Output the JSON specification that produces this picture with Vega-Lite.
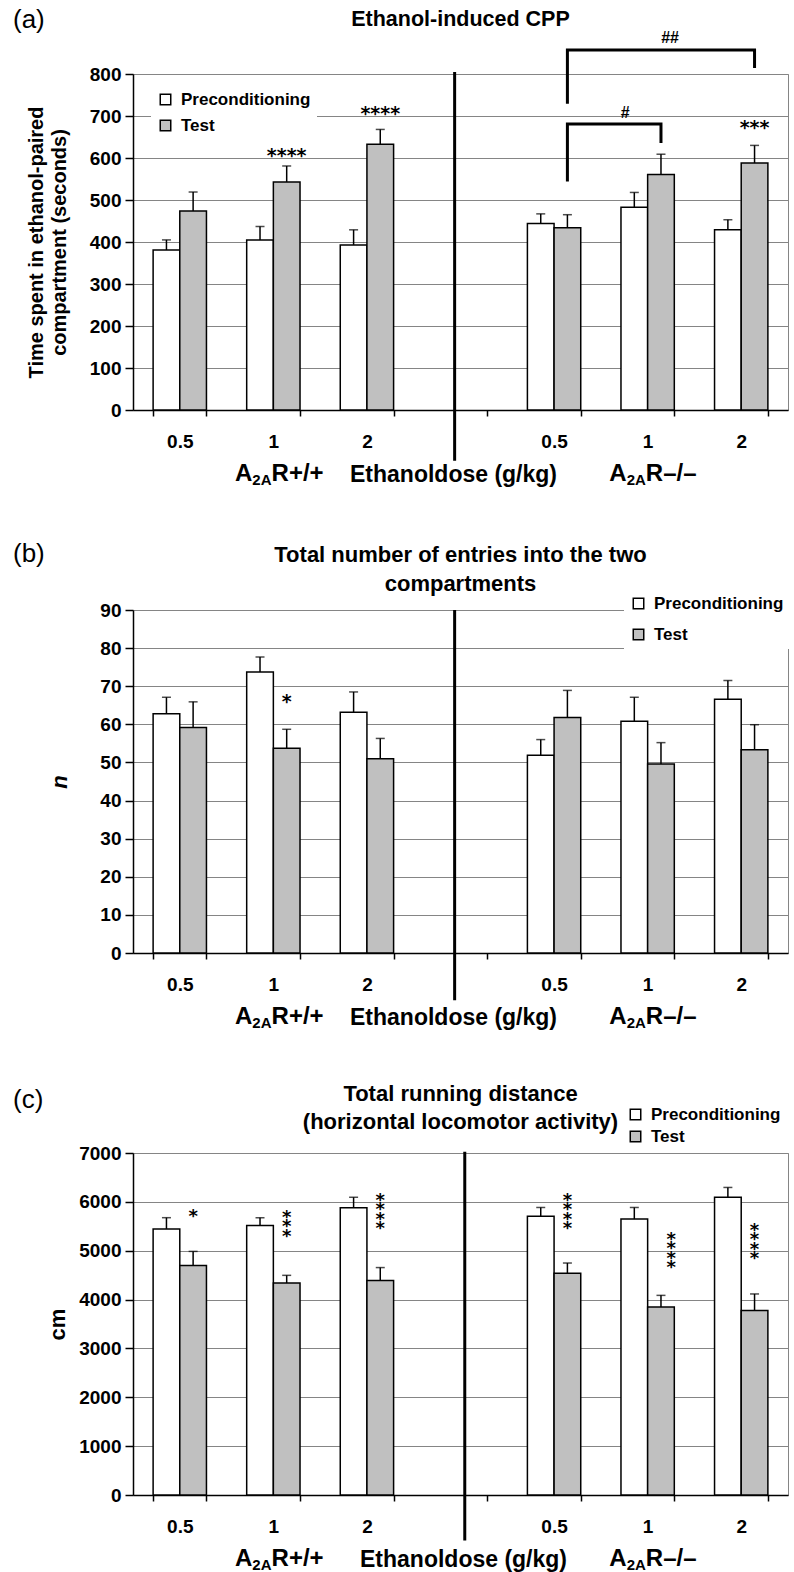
{
  "$schema": "https://vega.github.io/schema/vega-lite/v6.json",
  "background": "white",
  "padding": {"left": 12, "top": 6, "right": 4, "bottom": 4},
  "datasets": {
    "cpp": [
      {"group": "+/+ 0.5", "genotype": "A2AR+/+", "dose": "0.5", "phase": "Preconditioning", "mean": 381, "upper": 405},
      {"group": "+/+ 0.5", "genotype": "A2AR+/+", "dose": "0.5", "phase": "Test", "mean": 474, "upper": 519},
      {"group": "+/+ 1", "genotype": "A2AR+/+", "dose": "1", "phase": "Preconditioning", "mean": 405, "upper": 437},
      {"group": "+/+ 1", "genotype": "A2AR+/+", "dose": "1", "phase": "Test", "mean": 543, "upper": 581},
      {"group": "+/+ 2", "genotype": "A2AR+/+", "dose": "2", "phase": "Preconditioning", "mean": 393, "upper": 429},
      {"group": "+/+ 2", "genotype": "A2AR+/+", "dose": "2", "phase": "Test", "mean": 633, "upper": 668},
      {"group": "-/- 0.5", "genotype": "A2AR-/-", "dose": "0.5", "phase": "Preconditioning", "mean": 444, "upper": 467},
      {"group": "-/- 0.5", "genotype": "A2AR-/-", "dose": "0.5", "phase": "Test", "mean": 434, "upper": 465},
      {"group": "-/- 1", "genotype": "A2AR-/-", "dose": "1", "phase": "Preconditioning", "mean": 483, "upper": 518},
      {"group": "-/- 1", "genotype": "A2AR-/-", "dose": "1", "phase": "Test", "mean": 561, "upper": 609},
      {"group": "-/- 2", "genotype": "A2AR-/-", "dose": "2", "phase": "Preconditioning", "mean": 429, "upper": 453},
      {"group": "-/- 2", "genotype": "A2AR-/-", "dose": "2", "phase": "Test", "mean": 588, "upper": 630}
    ],
    "entries": [
      {"group": "+/+ 0.5", "genotype": "A2AR+/+", "dose": "0.5", "phase": "Preconditioning", "mean": 62.8, "upper": 67.1},
      {"group": "+/+ 0.5", "genotype": "A2AR+/+", "dose": "0.5", "phase": "Test", "mean": 59.2, "upper": 65.9},
      {"group": "+/+ 1", "genotype": "A2AR+/+", "dose": "1", "phase": "Preconditioning", "mean": 73.7, "upper": 77.7},
      {"group": "+/+ 1", "genotype": "A2AR+/+", "dose": "1", "phase": "Test", "mean": 53.7, "upper": 58.7},
      {"group": "+/+ 2", "genotype": "A2AR+/+", "dose": "2", "phase": "Preconditioning", "mean": 63.2, "upper": 68.5},
      {"group": "+/+ 2", "genotype": "A2AR+/+", "dose": "2", "phase": "Test", "mean": 51.0, "upper": 56.3},
      {"group": "-/- 0.5", "genotype": "A2AR-/-", "dose": "0.5", "phase": "Preconditioning", "mean": 51.9, "upper": 56.0},
      {"group": "-/- 0.5", "genotype": "A2AR-/-", "dose": "0.5", "phase": "Test", "mean": 61.8, "upper": 68.9},
      {"group": "-/- 1", "genotype": "A2AR-/-", "dose": "1", "phase": "Preconditioning", "mean": 60.8, "upper": 67.1},
      {"group": "-/- 1", "genotype": "A2AR-/-", "dose": "1", "phase": "Test", "mean": 49.6, "upper": 55.2},
      {"group": "-/- 2", "genotype": "A2AR-/-", "dose": "2", "phase": "Preconditioning", "mean": 66.6, "upper": 71.5},
      {"group": "-/- 2", "genotype": "A2AR-/-", "dose": "2", "phase": "Test", "mean": 53.3, "upper": 59.9}
    ],
    "distance": [
      {"group": "+/+ 0.5", "genotype": "A2AR+/+", "dose": "0.5", "phase": "Preconditioning", "mean": 5446, "upper": 5676},
      {"group": "+/+ 0.5", "genotype": "A2AR+/+", "dose": "0.5", "phase": "Test", "mean": 4698, "upper": 4986},
      {"group": "+/+ 1", "genotype": "A2AR+/+", "dose": "1", "phase": "Preconditioning", "mean": 5518, "upper": 5676},
      {"group": "+/+ 1", "genotype": "A2AR+/+", "dose": "1", "phase": "Test", "mean": 4338, "upper": 4496},
      {"group": "+/+ 2", "genotype": "A2AR+/+", "dose": "2", "phase": "Preconditioning", "mean": 5878, "upper": 6094},
      {"group": "+/+ 2", "genotype": "A2AR+/+", "dose": "2", "phase": "Test", "mean": 4388, "upper": 4655},
      {"group": "-/- 0.5", "genotype": "A2AR-/-", "dose": "0.5", "phase": "Preconditioning", "mean": 5705, "upper": 5885},
      {"group": "-/- 0.5", "genotype": "A2AR-/-", "dose": "0.5", "phase": "Test", "mean": 4540, "upper": 4748},
      {"group": "-/- 1", "genotype": "A2AR-/-", "dose": "1", "phase": "Preconditioning", "mean": 5647, "upper": 5885},
      {"group": "-/- 1", "genotype": "A2AR-/-", "dose": "1", "phase": "Test", "mean": 3849, "upper": 4086},
      {"group": "-/- 2", "genotype": "A2AR-/-", "dose": "2", "phase": "Preconditioning", "mean": 6094, "upper": 6295},
      {"group": "-/- 2", "genotype": "A2AR-/-", "dose": "2", "phase": "Test", "mean": 3777, "upper": 4115}
    ],
    "glabels": [
      {"group": "+/+ 1", "rest": "R+/+"},
      {"group": "-/- 1", "rest": "R–/–"}
    ]
  },
  "vconcat": [
    {
      "width": 655, "height": 336,
      "title": {"text": "(a)", "anchor": "start", "frame": "group", "dx": -120, "dy": 28, "font": "Liberation Sans, Arial, sans-serif", "fontSize": 26, "fontWeight": "normal", "color": "black"},
      "layer": [
        {
          "data": {"name": "cpp"},
          "mark": {"type": "bar", "stroke": "black", "strokeWidth": 1.5},
          "encoding": {
            "x": {"field": "group", "type": "nominal",
              "scale": {"domain": ["+/+ 0.5", "+/+ 1", "+/+ 2", "gap", "-/- 0.5", "-/- 1", "-/- 2"], "paddingInner": 0.43, "paddingOuter": 0.215},
              "axis": {"labelExpr": "datum.value == 'gap' ? '' : split(datum.value, ' ')[1]", "tickBand": "extent", "labelAngle": 0, "grid": false,
                "domainColor": "black", "domainWidth": 1.5, "tickColor": "black", "tickWidth": 1.5, "tickSize": 6,
                "labelFont": "Liberation Sans, Arial, sans-serif", "labelFontSize": 19, "labelFontWeight": "bold", "labelColor": "black", "labelPadding": 25, "labelBaseline": "middle",
                "title": "Ethanoldose (g/kg)", "titleFont": "Liberation Sans, Arial, sans-serif", "titleFontSize": 23, "titleFontWeight": "bold", "titleColor": "black", "titleX": 320, "titleY": 64, "titleBaseline": "middle"}},
            "xOffset": {"field": "phase", "type": "nominal", "scale": {"domain": ["Preconditioning", "Test"], "paddingInner": 0, "paddingOuter": 0}},
            "y": {"field": "mean", "type": "quantitative", "scale": {"domain": [0, 800], "nice": false},
              "axis": {"values": [0, 100, 200, 300, 400, 500, 600, 700, 800], "format": "d", "labelOverlap": false, "grid": true, "gridColor": "#858585", "gridWidth": 1,
                "domainColor": "black", "domainWidth": 1.5, "tickColor": "black", "tickWidth": 1.5, "tickSize": 8,
                "labelFont": "Liberation Sans, Arial, sans-serif", "labelFontSize": 19, "labelFontWeight": "bold", "labelColor": "black", "labelPadding": 4,
                "title": ["Time spent in ethanol-paired", "compartment (seconds)"], "titleFont": "Liberation Sans, Arial, sans-serif", "titleFontSize": 20, "titleFontWeight": "bold", "titleColor": "black", "titleBaseline": "middle", "titleX": -97, "titleLineHeight": 23}},
            "fill": {"field": "phase", "type": "nominal", "scale": {"domain": ["Preconditioning", "Test"], "range": ["#ffffff", "#c0c0c0"]},
              "legend": {"orient": "none", "legendX": 18, "legendY": 11, "title": null, "direction": "vertical", "symbolType": "square", "symbolSize": 110, "symbolStrokeColor": "black", "symbolStrokeWidth": 1.5,
                "labelFont": "Liberation Sans, Arial, sans-serif", "labelFontSize": 17, "labelFontWeight": "bold", "labelColor": "black", "labelOffset": 7, "rowPadding": 8, "padding": 6, "fillColor": "white"}}
          }
        },
        {
          "data": {"name": "cpp"},
          "mark": {"type": "rule", "color": "black", "strokeWidth": 1.5},
          "encoding": {
            "x": {"field": "group", "type": "nominal"},
            "xOffset": {"field": "phase", "type": "nominal"},
            "y": {"field": "mean", "type": "quantitative"},
            "y2": {"field": "upper"}
          }
        },
        {
          "data": {"name": "cpp"},
          "mark": {"type": "tick", "color": "black", "thickness": 1.5, "size": 9, "orient": "horizontal"},
          "encoding": {
            "x": {"field": "group", "type": "nominal"},
            "xOffset": {"field": "phase", "type": "nominal"},
            "y": {"field": "upper", "type": "quantitative"}
          }
        },
        {
          "data": {"values": [{}]},
          "mark": {"type": "rule", "color": "black", "strokeWidth": 3},
          "encoding": {
            "x": {"datum": "gap", "type": "nominal", "bandPosition": 0.39},
            "y": {"datum": 805, "type": "quantitative"},
            "y2": {"datum": -121}
          }
        },
        {
          "data": {"values": [
            {"br": "##", "group": "-/- 0.5", "y": 729, "o": 1},
            {"br": "##", "group": "-/- 0.5", "y": 857, "o": 2},
            {"br": "##", "group": "-/- 2", "y": 857, "o": 3},
            {"br": "##", "group": "-/- 2", "y": 814, "o": 4},
            {"br": "#", "group": "-/- 0.5", "y": 544, "o": 1},
            {"br": "#", "group": "-/- 0.5", "y": 681, "o": 2},
            {"br": "#", "group": "-/- 1", "y": 681, "o": 3},
            {"br": "#", "group": "-/- 1", "y": 636, "o": 4}
          ]},
          "mark": {"type": "line", "color": "black", "strokeWidth": 3, "strokeJoin": "miter", "strokeCap": "butt"},
          "encoding": {
            "x": {"field": "group", "type": "nominal", "bandPosition": 0.75},
            "y": {"field": "y", "type": "quantitative"},
            "detail": {"field": "br"},
            "order": {"field": "o", "type": "quantitative"}
          }
        },
        {
          "data": {"values": [{"group": "-/- 1", "s": "##", "y": 875}]},
          "mark": {"type": "text", "font": "Liberation Sans, Arial, sans-serif", "fontSize": 16, "fontWeight": "bold", "color": "black", "baseline": "alphabetic"},
          "encoding": {"x": {"field": "group", "type": "nominal", "bandPosition": 0.92}, "y": {"field": "y", "type": "quantitative"}, "text": {"field": "s"}}
        },
        {
          "data": {"values": [{"group": "-/- 1", "s": "#", "y": 695}]},
          "mark": {"type": "text", "font": "Liberation Sans, Arial, sans-serif", "fontSize": 16, "fontWeight": "bold", "color": "black", "baseline": "alphabetic"},
          "encoding": {"x": {"field": "group", "type": "nominal", "bandPosition": 0.08}, "y": {"field": "y", "type": "quantitative"}, "text": {"field": "s"}}
        },
        {
          "data": {"values": [
            {"group": "+/+ 1", "s": "****", "y": 591},
            {"group": "+/+ 2", "s": "****", "y": 691},
            {"group": "-/- 2", "s": "***", "y": 657}
          ]},
          "mark": {"type": "text", "font": "DejaVu Sans, sans-serif", "fontSize": 19, "fontWeight": "bold", "color": "black", "baseline": "alphabetic"},
          "encoding": {"x": {"field": "group", "type": "nominal", "bandPosition": 0.75}, "y": {"field": "y", "type": "quantitative"}, "text": {"field": "s"}}
        },
        {
          "data": {"values": [{"group": "gap", "t": "Ethanol-induced CPP"}]},
          "mark": {"type": "text", "font": "Liberation Sans, Arial, sans-serif", "fontSize": 21.5, "fontWeight": "bold", "color": "black", "baseline": "middle"},
          "encoding": {"x": {"field": "group", "type": "nominal"}, "y": {"datum": 928, "type": "quantitative"}, "text": {"field": "t"}}
        },
        {
          "data": {"name": "glabels"},
          "mark": {"type": "text", "text": "A", "font": "Liberation Sans, Arial, sans-serif", "fontSize": 24, "fontWeight": "bold", "color": "black", "align": "right", "baseline": "middle", "dx": -21},
          "encoding": {"x": {"field": "group", "type": "nominal"}, "y": {"datum": -152, "type": "quantitative"}}
        },
        {
          "data": {"name": "glabels"},
          "mark": {"type": "text", "text": "2A", "font": "Liberation Sans, Arial, sans-serif", "fontSize": 15, "fontWeight": "bold", "color": "black", "align": "left", "baseline": "middle", "dx": -21, "dy": 6},
          "encoding": {"x": {"field": "group", "type": "nominal"}, "y": {"datum": -152, "type": "quantitative"}}
        },
        {
          "data": {"name": "glabels"},
          "mark": {"type": "text", "font": "Liberation Sans, Arial, sans-serif", "fontSize": 24, "fontWeight": "bold", "color": "black", "align": "left", "baseline": "middle", "dx": -1.8},
          "encoding": {"x": {"field": "group", "type": "nominal"}, "y": {"datum": -152, "type": "quantitative"}, "text": {"field": "rest"}}
        }
      ]
    },
    {
      "width": 655, "height": 343,
      "title": {"text": "(b)", "anchor": "start", "frame": "group", "dx": -120, "dy": 27, "font": "Liberation Sans, Arial, sans-serif", "fontSize": 26, "fontWeight": "normal", "color": "black"},
      "layer": [
        {
          "data": {"name": "entries"},
          "mark": {"type": "bar", "stroke": "black", "strokeWidth": 1.5},
          "encoding": {
            "x": {"field": "group", "type": "nominal",
              "scale": {"domain": ["+/+ 0.5", "+/+ 1", "+/+ 2", "gap", "-/- 0.5", "-/- 1", "-/- 2"], "paddingInner": 0.43, "paddingOuter": 0.215},
              "axis": {"labelExpr": "datum.value == 'gap' ? '' : split(datum.value, ' ')[1]", "tickBand": "extent", "labelAngle": 0, "grid": false,
                "domainColor": "black", "domainWidth": 1.5, "tickColor": "black", "tickWidth": 1.5, "tickSize": 6,
                "labelFont": "Liberation Sans, Arial, sans-serif", "labelFontSize": 19, "labelFontWeight": "bold", "labelColor": "black", "labelPadding": 25, "labelBaseline": "middle",
                "title": "Ethanoldose (g/kg)", "titleFont": "Liberation Sans, Arial, sans-serif", "titleFontSize": 23, "titleFontWeight": "bold", "titleColor": "black", "titleX": 320, "titleY": 64, "titleBaseline": "middle"}},
            "xOffset": {"field": "phase", "type": "nominal", "scale": {"domain": ["Preconditioning", "Test"], "paddingInner": 0, "paddingOuter": 0}},
            "y": {"field": "mean", "type": "quantitative", "scale": {"domain": [0, 90], "nice": false},
              "axis": {"values": [0, 10, 20, 30, 40, 50, 60, 70, 80, 90], "tickCount": 10, "format": "d", "labelOverlap": false, "grid": true, "gridColor": "#858585", "gridWidth": 1,
                "domainColor": "black", "domainWidth": 1.5, "tickColor": "black", "tickWidth": 1.5, "tickSize": 8,
                "labelFont": "Liberation Sans, Arial, sans-serif", "labelFontSize": 19, "labelFontWeight": "bold", "labelColor": "black", "labelPadding": 4,
                "title": "n", "titleFont": "Liberation Sans, Arial, sans-serif", "titleFontSize": 22, "titleFontWeight": "bold", "titleFontStyle": "italic", "titleColor": "black", "titleBaseline": "middle", "titleX": -74}},
            "fill": {"field": "phase", "type": "nominal", "scale": {"domain": ["Preconditioning", "Test"], "range": ["#ffffff", "#c0c0c0"]},
              "legend": {"orient": "none", "legendX": 491, "legendY": -21, "title": null, "direction": "vertical", "symbolType": "square", "symbolSize": 110, "symbolStrokeColor": "black", "symbolStrokeWidth": 1.5,
                "labelFont": "Liberation Sans, Arial, sans-serif", "labelFontSize": 17, "labelFontWeight": "bold", "labelColor": "black", "labelOffset": 7, "rowPadding": 13, "padding": 6, "fillColor": "white"}}
          }
        },
        {
          "data": {"name": "entries"},
          "mark": {"type": "rule", "color": "black", "strokeWidth": 1.5},
          "encoding": {
            "x": {"field": "group", "type": "nominal"},
            "xOffset": {"field": "phase", "type": "nominal"},
            "y": {"field": "mean", "type": "quantitative"},
            "y2": {"field": "upper"}
          }
        },
        {
          "data": {"name": "entries"},
          "mark": {"type": "tick", "color": "black", "thickness": 1.5, "size": 9, "orient": "horizontal"},
          "encoding": {
            "x": {"field": "group", "type": "nominal"},
            "xOffset": {"field": "phase", "type": "nominal"},
            "y": {"field": "upper", "type": "quantitative"}
          }
        },
        {
          "data": {"values": [{}]},
          "mark": {"type": "rule", "color": "black", "strokeWidth": 3},
          "encoding": {
            "x": {"datum": "gap", "type": "nominal", "bandPosition": 0.39},
            "y": {"datum": 90, "type": "quantitative"},
            "y2": {"datum": -12.4}
          }
        },
        {
          "data": {"values": [{"group": "+/+ 1", "s": "*", "y": 64.2}]},
          "mark": {"type": "text", "font": "DejaVu Sans, sans-serif", "fontSize": 19, "fontWeight": "bold", "color": "black", "baseline": "alphabetic"},
          "encoding": {"x": {"field": "group", "type": "nominal", "bandPosition": 0.75}, "y": {"field": "y", "type": "quantitative"}, "text": {"field": "s"}}
        },
        {
          "data": {"values": [{"group": "gap", "t": "Total number of entries into the two\ncompartments"}]},
          "mark": {"type": "text", "font": "Liberation Sans, Arial, sans-serif", "fontSize": 22, "fontWeight": "bold", "color": "black", "baseline": "middle", "lineBreak": "\n", "lineHeight": 29},
          "encoding": {"x": {"field": "group", "type": "nominal"}, "y": {"datum": 104.5, "type": "quantitative"}, "text": {"field": "t"}}
        },
        {
          "data": {"name": "glabels"},
          "mark": {"type": "text", "text": "A", "font": "Liberation Sans, Arial, sans-serif", "fontSize": 24, "fontWeight": "bold", "color": "black", "align": "right", "baseline": "middle", "dx": -21},
          "encoding": {"x": {"field": "group", "type": "nominal"}, "y": {"datum": -16.8, "type": "quantitative"}}
        },
        {
          "data": {"name": "glabels"},
          "mark": {"type": "text", "text": "2A", "font": "Liberation Sans, Arial, sans-serif", "fontSize": 15, "fontWeight": "bold", "color": "black", "align": "left", "baseline": "middle", "dx": -21, "dy": 6},
          "encoding": {"x": {"field": "group", "type": "nominal"}, "y": {"datum": -16.8, "type": "quantitative"}}
        },
        {
          "data": {"name": "glabels"},
          "mark": {"type": "text", "font": "Liberation Sans, Arial, sans-serif", "fontSize": 24, "fontWeight": "bold", "color": "black", "align": "left", "baseline": "middle", "dx": -1.8},
          "encoding": {"x": {"field": "group", "type": "nominal"}, "y": {"datum": -16.8, "type": "quantitative"}, "text": {"field": "rest"}}
        }
      ]
    },
    {
      "width": 655, "height": 342,
      "title": {"text": "(c)", "anchor": "start", "frame": "group", "dx": -120, "dy": 34, "font": "Liberation Sans, Arial, sans-serif", "fontSize": 26, "fontWeight": "normal", "color": "black"},
      "layer": [
        {
          "data": {"name": "distance"},
          "mark": {"type": "bar", "stroke": "black", "strokeWidth": 1.5},
          "encoding": {
            "x": {"field": "group", "type": "nominal",
              "scale": {"domain": ["+/+ 0.5", "+/+ 1", "+/+ 2", "gap", "-/- 0.5", "-/- 1", "-/- 2"], "paddingInner": 0.43, "paddingOuter": 0.215},
              "axis": {"labelExpr": "datum.value == 'gap' ? '' : split(datum.value, ' ')[1]", "tickBand": "extent", "labelAngle": 0, "grid": false,
                "domainColor": "black", "domainWidth": 1.5, "tickColor": "black", "tickWidth": 1.5, "tickSize": 6,
                "labelFont": "Liberation Sans, Arial, sans-serif", "labelFontSize": 19, "labelFontWeight": "bold", "labelColor": "black", "labelPadding": 25, "labelBaseline": "middle",
                "title": "Ethanoldose (g/kg)", "titleFont": "Liberation Sans, Arial, sans-serif", "titleFontSize": 23, "titleFontWeight": "bold", "titleColor": "black", "titleX": 330, "titleY": 64, "titleBaseline": "middle"}},
            "xOffset": {"field": "phase", "type": "nominal", "scale": {"domain": ["Preconditioning", "Test"], "paddingInner": 0, "paddingOuter": 0}},
            "y": {"field": "mean", "type": "quantitative", "scale": {"domain": [0, 7000], "nice": false},
              "axis": {"values": [0, 1000, 2000, 3000, 4000, 5000, 6000, 7000], "format": "d", "labelOverlap": false, "grid": true, "gridColor": "#858585", "gridWidth": 1,
                "domainColor": "black", "domainWidth": 1.5, "tickColor": "black", "tickWidth": 1.5, "tickSize": 8,
                "labelFont": "Liberation Sans, Arial, sans-serif", "labelFontSize": 19, "labelFontWeight": "bold", "labelColor": "black", "labelPadding": 4,
                "title": "cm", "titleFont": "Liberation Sans, Arial, sans-serif", "titleFontSize": 22, "titleFontWeight": "bold", "titleColor": "black", "titleBaseline": "middle", "titleX": -76}},
            "fill": {"field": "phase", "type": "nominal", "scale": {"domain": ["Preconditioning", "Test"], "range": ["#ffffff", "#c0c0c0"]},
              "legend": {"orient": "none", "legendX": 488, "legendY": -53, "title": null, "direction": "vertical", "symbolType": "square", "symbolSize": 110, "symbolStrokeColor": "black", "symbolStrokeWidth": 1.5,
                "labelFont": "Liberation Sans, Arial, sans-serif", "labelFontSize": 17, "labelFontWeight": "bold", "labelColor": "black", "labelOffset": 7, "rowPadding": 4, "padding": 6, "fillColor": "white"}}
          }
        },
        {
          "data": {"name": "distance"},
          "mark": {"type": "rule", "color": "black", "strokeWidth": 1.5},
          "encoding": {
            "x": {"field": "group", "type": "nominal"},
            "xOffset": {"field": "phase", "type": "nominal"},
            "y": {"field": "mean", "type": "quantitative"},
            "y2": {"field": "upper"}
          }
        },
        {
          "data": {"name": "distance"},
          "mark": {"type": "tick", "color": "black", "thickness": 1.5, "size": 9, "orient": "horizontal"},
          "encoding": {
            "x": {"field": "group", "type": "nominal"},
            "xOffset": {"field": "phase", "type": "nominal"},
            "y": {"field": "upper", "type": "quantitative"}
          }
        },
        {
          "data": {"values": [{}]},
          "mark": {"type": "rule", "color": "black", "strokeWidth": 3},
          "encoding": {
            "x": {"datum": "gap", "type": "nominal", "bandPosition": 0.58},
            "y": {"datum": 7028, "type": "quantitative"},
            "y2": {"datum": -930}
          }
        },
        {
          "data": {"values": [
            {"group": "+/+ 0.5", "s": "*", "y": 5696},
            {"group": "+/+ 1", "s": "*\n*\n*", "y": 5673},
            {"group": "+/+ 2", "s": "*\n*\n*\n*", "y": 6019},
            {"group": "-/- 0.5", "s": "*\n*\n*\n*", "y": 6019},
            {"group": "-/- 2", "s": "*\n*\n*\n*", "y": 5408}
          ]},
          "mark": {"type": "text", "font": "DejaVu Sans, sans-serif", "fontSize": 18, "fontWeight": "bold", "color": "black", "baseline": "middle", "lineBreak": "\n", "lineHeight": 9.5},
          "encoding": {"x": {"field": "group", "type": "nominal", "bandPosition": 0.75}, "y": {"field": "y", "type": "quantitative"}, "text": {"field": "s"}}
        },
        {
          "data": {"values": [{"group": "-/- 1", "s": "*\n*\n*\n*", "y": 5221}]},
          "mark": {"type": "text", "font": "DejaVu Sans, sans-serif", "fontSize": 18, "fontWeight": "bold", "color": "black", "baseline": "middle", "lineBreak": "\n", "lineHeight": 9.5},
          "encoding": {"x": {"field": "group", "type": "nominal", "bandPosition": 0.94}, "y": {"field": "y", "type": "quantitative"}, "text": {"field": "s"}}
        },
        {
          "data": {"values": [{"group": "gap", "t": "Total running distance\n(horizontal locomotor activity)"}]},
          "mark": {"type": "text", "font": "Liberation Sans, Arial, sans-serif", "fontSize": 22, "fontWeight": "bold", "color": "black", "baseline": "middle", "lineBreak": "\n", "lineHeight": 28},
          "encoding": {"x": {"field": "group", "type": "nominal"}, "y": {"datum": 8206, "type": "quantitative"}, "text": {"field": "t"}}
        },
        {
          "data": {"name": "glabels"},
          "mark": {"type": "text", "text": "A", "font": "Liberation Sans, Arial, sans-serif", "fontSize": 24, "fontWeight": "bold", "color": "black", "align": "right", "baseline": "middle", "dx": -21},
          "encoding": {"x": {"field": "group", "type": "nominal"}, "y": {"datum": -1308, "type": "quantitative"}}
        },
        {
          "data": {"name": "glabels"},
          "mark": {"type": "text", "text": "2A", "font": "Liberation Sans, Arial, sans-serif", "fontSize": 15, "fontWeight": "bold", "color": "black", "align": "left", "baseline": "middle", "dx": -21, "dy": 6},
          "encoding": {"x": {"field": "group", "type": "nominal"}, "y": {"datum": -1308, "type": "quantitative"}}
        },
        {
          "data": {"name": "glabels"},
          "mark": {"type": "text", "font": "Liberation Sans, Arial, sans-serif", "fontSize": 24, "fontWeight": "bold", "color": "black", "align": "left", "baseline": "middle", "dx": -1.8},
          "encoding": {"x": {"field": "group", "type": "nominal"}, "y": {"datum": -1308, "type": "quantitative"}, "text": {"field": "rest"}}
        }
      ]
    }
  ],
  "spacing": 200,
  "bounds": "flush",
  "resolve": {"scale": {"fill": "independent"}, "legend": {"fill": "independent"}},
  "config": {
    "view": {"stroke": "#858585", "strokeWidth": 1}
  }
}
